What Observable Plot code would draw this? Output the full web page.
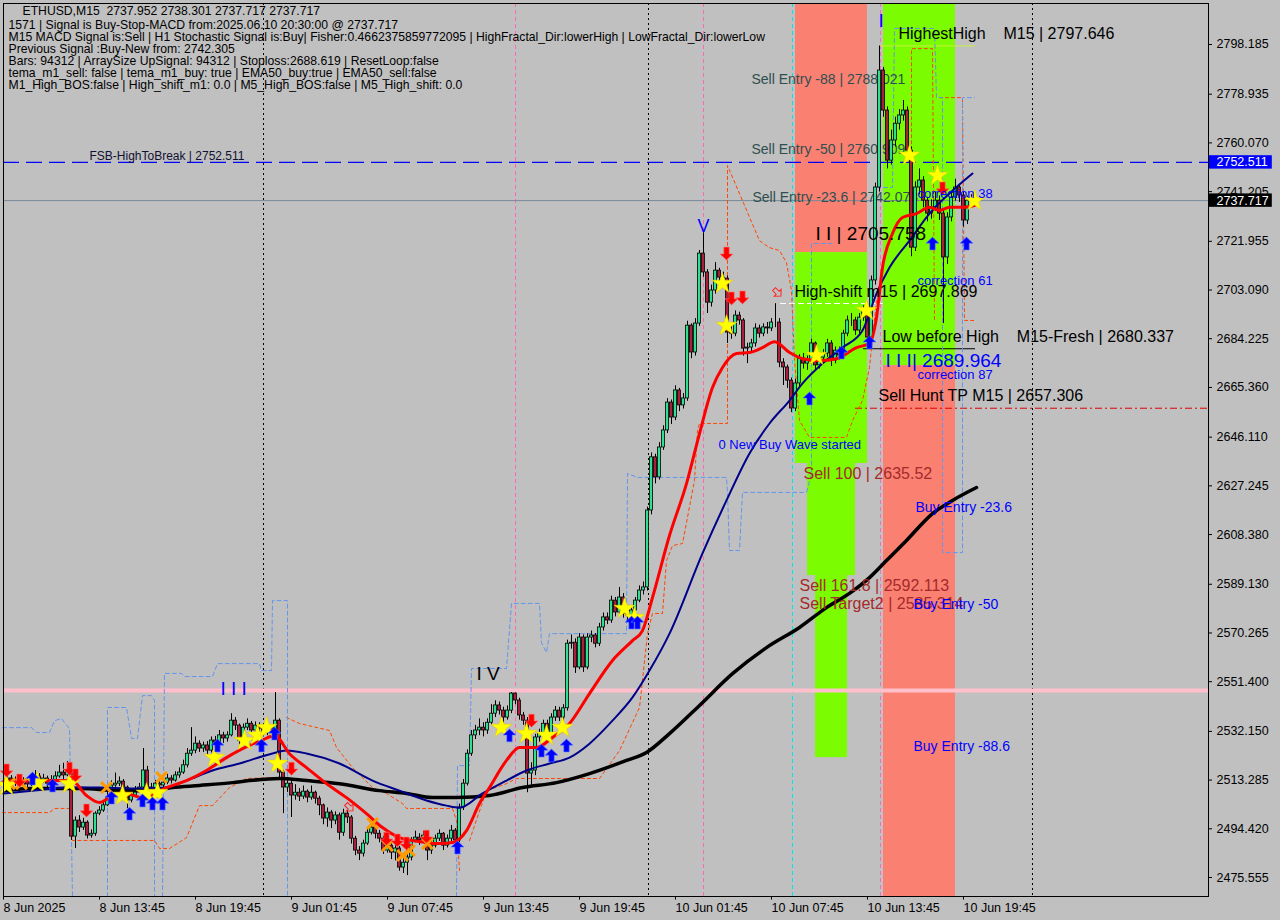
<!DOCTYPE html>
<html><head><meta charset="utf-8">
<script src="https://cdn.jsdelivr.net/npm/d3@7"></script>
<script src="https://cdn.jsdelivr.net/npm/@observablehq/plot@0.6"></script>
<style>
html,body{margin:0;padding:0;background:#c0c0c0;}
#chart{width:1280px;height:920px;overflow:hidden;}
</style></head><body>
<div id="chart"></div>
<script>
// ---------------- data ----------------
const infoLines = [
  "ETHUSD,M15  2737.952 2738.301 2737.717 2737.717",
  "1571 | Signal is Buy-Stop-MACD from:2025.06.10 20:30:00 @ 2737.717",
  "M15 MACD Signal is:Sell | H1 Stochastic Signal is:Buy| Fisher:0.4662375859772095 | HighFractal_Dir:lowerHigh | LowFractal_Dir:lowerLow",
  "Previous Signal :Buy-New from: 2742.305",
  "Bars: 94312 | ArraySize UpSignal: 94312 | Stoploss:2688.619 | ResetLoop:false",
  "tema_m1_sell: false | tema_m1_buy: true | EMA50_buy:true | EMA50_sell:false",
  "M1_High_BOS:false | High_shift_m1: 0.0 | M5_High_BOS:false | M5_High_shift: 0.0"
];
const priceTickLabels = ["2798.185","2778.935","2760.070","2741.205","2721.955","2703.090","2684.225","2665.360","2646.110","2627.245","2608.380","2589.130","2570.265","2551.400","2532.150","2513.285","2494.420","2475.555"];
const dateTickBars = [0,24,48,72,96,120,144,168,192,216,240];
const dateTickLabels = ["8 Jun 2025","8 Jun 13:45","8 Jun 19:45","9 Jun 01:45","9 Jun 07:45","9 Jun 13:45","9 Jun 19:45","10 Jun 01:45","10 Jun 07:45","10 Jun 13:45","10 Jun 19:45"];

// M15 candles (bar index 0 = 8 Jun 07:45); open = previous close
const firstOpen = 2511.5;
const closes = [
2512.3,2513.9,2511.9,2513.1,2511.2,2512.7,2511.6,2513.5,2514.7,2513.1,
2513.9,2511.9,2513.1,2514.7,2516.2,2515.1,2517.0,2491.4,2497.6,2494.9,
2496.8,2491.8,2492.5,2500.3,2501.5,2503.5,2506.5,2511.2,2511.9,2512.7,
2510.4,2505.4,2507.3,2509.2,2510.4,2517.0,2510.4,2510.0,2511.9,2511.2,
2512.3,2513.9,2513.1,2515.1,2516.2,2519.0,2523.5,2524.7,2527.4,2525.5,
2526.7,2524.7,2528.6,2527.8,2530.6,2529.4,2530.6,2536.3,2534.4,2528.6,
2533.6,2535.1,2532.5,2534.4,2533.2,2531.7,2533.6,2531.3,2536.3,2516.2,
2510.4,2511.9,2507.3,2508.4,2506.9,2508.8,2506.5,2508.4,2506.1,2503.5,
2498.4,2500.7,2497.6,2499.6,2492.9,2500.3,2498.8,2490.6,2486.0,2484.8,
2488.7,2492.9,2494.9,2492.5,2490.6,2486.0,2487.9,2485.2,2486.8,2479.4,
2481.3,2483.3,2489.9,2491.0,2489.9,2491.8,2486.0,2487.9,2490.6,2492.5,
2487.9,2490.6,2493.7,2489.9,2502.7,2511.9,2523.5,2530.6,2532.5,2533.6,
2532.5,2535.5,2539.0,2542.2,2540.2,2537.5,2540.2,2546.8,2544.1,2538.3,
2536.3,2515.8,2517.0,2529.8,2531.3,2535.1,2531.3,2537.5,2540.2,2537.5,
2541.1,2566.1,2566.5,2556.9,2568.5,2556.9,2568.5,2569.3,2566.1,2572.4,
2576.3,2575.1,2582.8,2578.2,2584.0,2577.8,2577.0,2579.0,2582.8,2586.7,
2587.9,2617.7,2638.3,2630.5,2642.1,2648.7,2659.5,2653.7,2664.2,2658.4,
2661.1,2689.3,2678.9,2690.1,2717.2,2709.9,2698.2,2702.9,2710.6,2707.9,
2707.5,2686.6,2686.2,2693.2,2691.3,2680.4,2680.8,2682.4,2688.2,2686.2,
2688.6,2688.2,2690.5,2690.5,2675.0,2673.1,2668.0,2657.2,2666.9,2676.5,
2674.6,2675.8,2682.4,2673.9,2676.9,2678.5,2682.4,2675.8,2679.6,2677.7,
2686.2,2691.3,2691.3,2687.4,2692.4,2695.1,2684.7,2706.8,2742.8,2788.1,
2772.6,2753.2,2761.0,2767.5,2770.7,2772.6,2757.1,2719.5,2742.8,2745.5,
2737.7,2732.7,2735.1,2737.7,2732.7,2715.7,2731.2,2738.9,2742.8,2739.7,
2730.0,2737.7,2737.952,2737.717];
const highs = [
2514.5,2515.5,2515.0,2514.5,2514.0,2514.2,2513.8,2515.0,2517.0,2515.8,
2515.5,2514.8,2515.0,2516.5,2519.0,2519.8,2520.5,2519.0,2499.0,2499.5,
2498.5,2497.5,2494.0,2501.0,2503.0,2505.0,2509.5,2513.0,2516.0,2514.5,
2513.5,2511.0,2508.5,2510.8,2512.0,2525.5,2518.6,2512.0,2513.2,2513.5,
2514.0,2515.5,2515.0,2516.5,2518.0,2521.0,2525.5,2533.6,2530.0,2528.5,
2528.0,2528.2,2530.0,2530.2,2532.5,2531.8,2532.0,2539.0,2537.5,2535.0,
2535.0,2537.0,2536.0,2535.8,2535.5,2534.5,2535.0,2534.5,2547.2,2537.0,
2517.0,2514.0,2513.0,2511.5,2510.0,2511.0,2509.5,2511.0,2509.0,2507.0,
2504.0,2502.5,2501.5,2501.0,2500.5,2502.0,2501.5,2499.5,2491.5,2487.5,
2490.0,2494.5,2496.5,2496.0,2493.8,2491.5,2489.5,2489.0,2488.5,2487.5,
2483.0,2485.0,2491.0,2493.5,2492.5,2493.5,2493.0,2489.5,2492.0,2494.0,
2493.0,2492.0,2495.7,2494.5,2504.0,2513.5,2525.0,2532.5,2534.5,2537.0,
2535.5,2537.0,2542.5,2544.0,2543.5,2541.5,2542.0,2547.2,2547.0,2545.0,
2539.5,2537.5,2520.0,2531.0,2533.0,2536.5,2536.5,2539.0,2541.8,2541.5,
2542.5,2567.5,2569.5,2568.0,2570.0,2569.5,2570.0,2571.0,2570.0,2574.0,
2578.0,2578.0,2584.5,2584.0,2587.9,2585.5,2579.5,2580.5,2584.0,2588.5,
2590.0,2619.0,2640.0,2639.5,2644.0,2650.5,2661.0,2660.5,2666.0,2665.0,
2663.0,2691.0,2690.0,2692.0,2718.4,2725.3,2711.0,2705.0,2713.7,2711.5,
2710.0,2708.5,2689.0,2695.0,2694.5,2692.0,2682.5,2684.0,2690.0,2689.5,
2690.0,2690.5,2692.0,2697.8,2692.0,2676.5,2674.0,2669.0,2668.5,2678.0,
2678.5,2677.5,2684.0,2683.0,2678.5,2680.0,2684.0,2683.5,2681.0,2681.0,
2687.5,2693.0,2694.0,2692.5,2694.0,2697.0,2696.0,2708.5,2744.5,2797.6,
2789.3,2774.0,2765.0,2770.0,2773.0,2776.5,2774.0,2758.5,2745.0,2750.0,
2747.0,2739.0,2738.0,2741.0,2739.5,2734.0,2733.0,2741.0,2746.0,2744.0,
2741.0,2739.5,2740.0,2738.301];
const lows = [
2510.0,2511.5,2510.5,2510.8,2509.0,2510.2,2510.0,2510.8,2512.8,2511.8,
2512.0,2510.3,2511.0,2512.5,2514.0,2513.5,2514.6,2489.9,2486.8,2493.0,
2493.8,2490.5,2490.8,2491.5,2499.5,2500.8,2503.0,2506.0,2510.5,2510.8,
2509.5,2502.2,2504.5,2506.5,2508.5,2509.5,2509.0,2508.5,2509.0,2509.8,
2510.0,2511.5,2511.8,2512.5,2514.0,2515.5,2518.0,2522.5,2523.5,2524.0,
2524.0,2523.0,2523.8,2526.0,2527.0,2527.5,2528.0,2530.0,2532.5,2527.0,
2527.5,2532.5,2531.0,2531.5,2531.8,2530.0,2530.5,2529.5,2530.5,2514.0,
2500.3,2508.5,2498.8,2505.5,2505.0,2505.8,2504.5,2505.5,2504.0,2499.5,
2496.0,2495.0,2494.5,2496.0,2490.0,2491.5,2496.5,2488.5,2484.0,2482.1,
2483.5,2488.0,2492.0,2490.5,2489.0,2484.5,2485.0,2482.5,2482.0,2478.0,
2477.1,2476.3,2482.0,2489.0,2488.0,2489.0,2482.1,2484.5,2487.0,2489.5,
2486.0,2487.0,2489.5,2488.0,2489.0,2501.5,2511.0,2522.5,2529.0,2530.5,
2530.0,2531.0,2534.5,2537.5,2538.5,2535.5,2536.5,2539.0,2542.5,2536.5,
2534.5,2508.4,2511.0,2515.0,2528.0,2530.0,2529.5,2530.0,2536.0,2536.0,
2536.0,2540.0,2564.0,2554.6,2556.0,2555.0,2556.0,2566.5,2564.5,2565.0,
2571.0,2573.5,2574.0,2576.5,2577.0,2576.0,2574.5,2575.5,2578.0,2582.0,
2585.0,2586.5,2616.0,2628.0,2629.5,2641.0,2647.5,2651.0,2652.5,2656.0,
2657.0,2660.0,2676.5,2677.5,2689.0,2708.0,2694.0,2696.5,2701.5,2705.5,
2704.0,2682.4,2684.0,2685.0,2689.5,2677.5,2674.6,2679.0,2681.0,2684.5,
2685.0,2686.0,2687.0,2688.5,2673.0,2666.1,2665.0,2655.6,2656.0,2665.5,
2672.5,2672.0,2674.5,2671.5,2672.5,2675.5,2677.0,2673.5,2674.5,2676.0,
2676.5,2685.0,2689.0,2685.5,2686.0,2691.0,2682.0,2683.5,2705.0,2741.0,
2770.0,2750.0,2751.5,2758.5,2765.0,2768.5,2754.5,2716.0,2718.0,2740.0,
2735.0,2729.5,2730.5,2733.5,2730.0,2690.1,2713.0,2729.5,2737.5,2737.0,
2727.5,2728.5,2735.5,2737.717];

// indicator lines: [bar, price]
const redLine = [[0,2512.7],[9,2513.1],[17,2513.1],[20.75,2507.3],[24,2504.6],[26.5,2506.5],[29.75,2508.4],[34.75,2506.5],[40.75,2510.4],[45.75,2513.1],[50.75,2517.0],[55.75,2522.0],[61.5,2526.7],[64.5,2528.6],[67.75,2530.6],[71.5,2523.5],[75.75,2518.1],[80.75,2511.9],[85.75,2506.5],[90.75,2500.3],[94.75,2494.9],[99,2491.0],[102.25,2489.9],[109,2488.7],[112.25,2489.1],[115.75,2493.7],[119,2504.2],[121.5,2510.4],[125.75,2520.9],[129,2525.9],[133.25,2525.9],[137.25,2529.8],[141.5,2535.2],[146.5,2546.8],[152.25,2559.6],[157.25,2567.3],[159.75,2571.2],[162.25,2584.0],[166.5,2608.0],[170.75,2628.1],[174,2647.5],[177.25,2665.3],[179.75,2673.1],[183.25,2678.5],[186.5,2678.9],[189.75,2680.8],[192.75,2683.1],[196.5,2678.9],[199.75,2676.5],[204,2675.8],[208.25,2676.5],[213.25,2680.8],[216.5,2682.4],[218.25,2692.4],[219.75,2711.8],[222.25,2725.0],[224.75,2731.2],[228.25,2732.7],[231.5,2735.1],[234,2733.9],[236.5,2735.1],[239.75,2735.1],[242.75,2735.8]];
const navyLine = [[0,2508.1],[7.25,2509.2],[15.75,2510.4],[24,2510.4],[32.25,2510.0],[40.75,2510.4],[45.75,2513.1],[52.25,2517.0],[59,2519.7],[67.25,2523.6],[70.75,2524.7],[75.75,2523.6],[84,2519.7],[92.25,2513.1],[99,2509.2],[105.75,2505.4],[110.75,2503.4],[114,2502.6],[119.75,2508.1],[125.75,2513.1],[130.75,2517.0],[136.5,2519.7],[141.5,2522.0],[146.5,2527.4],[152.25,2536.3],[157.25,2545.3],[161.5,2555.7],[166.5,2570.0],[174.75,2601.1],[180.75,2621.6],[186.5,2639.8],[191.5,2651.4],[196.5,2660.3],[199.75,2666.9],[204.75,2674.6],[209.75,2680.8],[214.75,2687.4],[218.25,2701.7],[221.5,2711.8],[226.5,2722.2],[231.5,2732.7],[236.5,2740.5],[242.25,2748.2]];
const blackLine = [[0,2509.2],[7.25,2510.0],[19.75,2510.0],[28.25,2509.2],[36.5,2509.2],[42.25,2510.4],[49,2511.2],[57.25,2512.3],[61.5,2513.1],[69,2513.9],[75.75,2513.1],[84,2511.9],[94,2509.2],[100.75,2508.1],[107.25,2506.5],[113.25,2506.5],[121.5,2507.3],[129.75,2510.4],[138.25,2512.3],[146.5,2515.8],[155.75,2520.9],[160.75,2524.0],[166.5,2531.3],[174,2542.2],[182.25,2554.5],[190.75,2564.6],[199,2572.4],[205.75,2580.1],[211.5,2585.6],[216.5,2591.7],[220.75,2598.3],[225.75,2606.1],[232.25,2616.5],[237.25,2621.6],[243.25,2626.6]];
// stepped bands: [segment, bar, price]
const orangeBand = [
[1,-0.25,2500.7],[1,11.5,2500.7],[1,12.75,2502.3],[1,17,2502.3],[1,17.25,2489.9],[1,37.75,2489.9],[1,39,2486.8],[1,41.5,2486.8],[1,45.75,2491.0],[1,49,2503.4],[1,52.25,2503.4],[1,56.5,2510.4],[1,60.75,2513.9],[1,69.75,2514.3],
[2,70.75,2537.5],[2,74,2535.2],[2,81.5,2532.5],[2,83.25,2525.9],[2,87.25,2518.1],[2,92.25,2510.4],[2,95.75,2508.1],[2,99.75,2504.2],[2,100.75,2502.3],[2,112.25,2502.3],[2,113.25,2497.6],[2,114,2478.3],
[3,116.5,2489.9],[3,120.75,2509.2],[3,125.75,2511.9],[3,128.25,2513.9],[3,149,2513.9],[3,154,2524.7],[3,159,2541.4],[3,161,2570.0],[3,162.25,2577.8],[3,164.75,2577.8],[3,165.75,2598.3],[3,167.25,2604.1],[3,169.75,2604.9],[3,172.75,2629.3],[3,173.5,2648.7],[3,174,2651.4],[3,181,2651.4],[3,181,2751.3],[3,184.75,2737.7],[3,189,2722.2],[3,191.5,2719.5],[3,194,2718.4],[3,195.75,2713.7],[3,197,2702.9],[3,197.75,2675.8],[3,199,2652.5],[3,201.5,2646.0],[3,210.75,2646.0],[3,212.25,2652.5],[3,214.75,2660.3],[3,216.5,2673.1],[3,218.25,2699.0],
[6,227,2724.9],[6,227,2796.6],[6,232.25,2796.6],[6,232.75,2691.3],
[7,234,2777.6],[7,239.75,2777.6],[7,240.25,2691.3],[7,242.75,2691.3]];
const blueFractal = [
[1,-0.25,2533.6],[1,7,2533.6],[1,8.25,2531.7],[1,11.5,2531.7],[1,12.75,2536.3],[1,14.5,2537.1],[1,16.5,2533.2],[1,17.25,2468.2],
[2,26,2468.2],[2,26,2541.4],[2,30.75,2541.4],[2,32,2529.4],[2,33.5,2529.4],[2,34.75,2546.0],[2,37,2546.0],[2,37.75,2544.1],[2,37.75,2468.2],
[3,39.75,2468.2],[3,40.25,2554.6],[3,44.5,2554.6],[3,45.25,2553.4],[3,52.25,2553.4],[3,53.5,2558.4],[3,64,2558.4],[3,64.5,2555.7],[3,67,2555.7],[3,67.25,2582.8],[3,71,2582.8],[3,71,2468.2],
[4,113.25,2468.2],[4,113.5,2518.9],[4,116.5,2518.9],[4,117,2556.5],[4,125.75,2556.5],[4,127,2581.7],[4,134,2581.7],[4,134.5,2566.5],[4,135.75,2562.7],[4,136.5,2570.0],[4,155.75,2570.0],[4,156,2632.0],[4,158.5,2630.5],[4,180.75,2630.5],[4,181,2624.3],[4,181.5,2602.2],[4,184,2602.2],[4,184.75,2624.7],[4,200.75,2624.7],[4,202,2632.0],[4,202,2721.1],[4,207.5,2721.1],
[5,218.25,2742.8],[5,222.25,2742.8],[5,222.75,2804.4],[5,232.75,2804.4],[5,233.25,2777.6],[5,234.75,2777.6],[5,234.75,2601.4],[5,239.75,2601.4],[5,239.75,2777.6],[5,242.75,2777.6]];

// signal markers: [bar, price]
const redArrows = [[0.75,2517.0],[4,2513.1],[16.5,2517.7],[18,2515.1],[20.75,2501.5],[72,2517.7],[95.75,2490.6],[98.5,2489.9],[100.75,2488.7],[105.75,2491.4],[132,2536.3],[180.75,2717.2],[182,2699.8],[184.75,2700.2],[234.75,2742.4]];
const blueArrows = [[7.25,2513.9],[12.25,2511.2],[27,2506.5],[31.5,2500.3],[34.75,2505.4],[37.25,2504.2],[39.75,2504.2],[53.5,2526.7],[64.5,2526.7],[67.75,2531.3],[113.5,2487.2],[126.5,2530.6],[134.5,2524.7],[137,2522.8],[140.75,2526.7],[157,2574.3],[158.5,2574.3],[201.5,2661.1],[209.5,2678.9],[216.5,2682.8],[232.25,2721.1],[240.75,2721.1]];
const stars = [[0.75,2511.2],[8.5,2512.3],[16.5,2511.9],[29.75,2507.3],[35.75,2508.1],[38.5,2508.4],[52.75,2522.0],[60.25,2528.6],[63.5,2530.6],[65.75,2533.6],[68.5,2519.7],[124.5,2533.6],[130.75,2531.3],[135.75,2530.6],[139.75,2533.6],[155.25,2579.7],[157.75,2576.2],[179.75,2705.6],[180.75,2689.3],[203.25,2677.7],[215.75,2695.1],[226.5,2755.2],[233.5,2747.4],[242.75,2737.7]];
const orangeCrosses = [[1.5,2511.9],[4.5,2511.9],[25.75,2510.4],[39.5,2514.3],[92.25,2496.5],[96,2487.9],[99.75,2484.1],[101.5,2486.0],[106,2488.7]];
const hollowArrows = [[86.5,2502.7],[193.5,2702.1]];

// zones (bar from, bar to, price top, price bottom)
const zoneFrom   = [198, 198, 201, 203, 220, 220];
const zoneTo     = [216, 216, 213, 211, 238, 238];
const zoneTop    = [2814.06, 2717.6, 2635.9, 2592.5, 2814.06, 2673.8];
const zoneBottom = [2717.6, 2635.9, 2592.5, 2522.0, 2673.8, 2468.2];
const zoneKind   = ["sell","buy","buy","buy","buy","sell"];

// levels
const fsbLevel = 2752.511, bidLevel = 2737.717, pinkLevel = 2548.0;
const sellHuntSeg = [2657.306, 213, 301.25];
const highShiftSeg = [2697.869, 194.25, 220];
const lowBeforeHighSeg = [2680.337, 215, 243];
const highestHighSeg = [2797.646, 219, 243];
const blackDotted = [65, 161.25, 257.25];
const pinkDashed = [128, 175, 219.25];
const cyanDashed = [197.25];

// labels: [text, bar, price]
const sellEntryLabels = [["Sell Entry -88 | 2788.021",187,2784.6],["Sell Entry -50 | 2760.909",187,2757.5],["Sell Entry -23.6 | 2742.073",187.25,2738.9]];
const fsbLabel = [["FSB-HighToBreak | 2752.511",21.5,2754.8]];
const blackLabels = [["HighestHigh    M15 | 2797.646",223.75,2802.4],["High-shift m15 | 2697.869",197.75,2702.5],["Low before High    M15-Fresh | 2680.337",219.75,2685.1],["Sell Hunt TP M15 | 2657.306",218.75,2662.2]];
const waveBlack = [["I I | 2705.758",203,2725.0],["I V",118.25,2554.6]];
const waveBlue = [["I I I| 2689.964",220.5,2675.8],["I I I",54.25,2548.7],["I",218.75,2807.5]];
const waveV = [["V",175,2727.7]];
const smallBlue = [["correction 61",228.5,2706.8],["correction 87",228.5,2670.3],["correction 38",228.5,2740.4],["0 New Buy Wave started",178.75,2643.2]];
const brownLabels = [["Sell 100 | 2635.52",200,2632.0],["Sell 161.8 | 2592.113",199,2588.6],["Sell Target2 | 2585.314",199,2581.7]];
const buyEntryLabels = [["Buy Entry -23.6",228,2618.8],["Buy Entry -50",227.5,2581.3],["Buy Entry -88.6",227.5,2526.3]];
const priceBoxes = [[fsbLevel,"2752.511","#0000ff"],[bidLevel,"2737.717","#000000"]];

// ---------------- build ----------------
const opens = [firstOpen, ...closes.slice(0, -1)];
const candles = closes.map((c, i) => ({i, o: opens[i], h: highs[i], l: lows[i], c}));
const zones = zoneFrom.map((f, k) => ({x1: f, x2: zoneTo[k], y1: zoneBottom[k], y2: zoneTop[k], kind: zoneKind[k]}));
const dateTicks = dateTickBars.map((b, k) => ({i: b, label: dateTickLabels[k]}));

const arrowUp = {draw(ctx, size) {
  const s = Math.sqrt(size) / 2;
  ctx.moveTo(0, -s); ctx.lineTo(s, -s * 0.05); ctx.lineTo(s * 0.42, -s * 0.05);
  ctx.lineTo(s * 0.42, s); ctx.lineTo(-s * 0.42, s); ctx.lineTo(-s * 0.42, -s * 0.05);
  ctx.lineTo(-s, -s * 0.05); ctx.closePath();
}};
const arrowDown = {draw(ctx, size) {
  const s = Math.sqrt(size) / 2;
  ctx.moveTo(0, s); ctx.lineTo(s, s * 0.05); ctx.lineTo(s * 0.42, s * 0.05);
  ctx.lineTo(s * 0.42, -s); ctx.lineTo(-s * 0.42, -s); ctx.lineTo(-s * 0.42, s * 0.05);
  ctx.lineTo(-s, s * 0.05); ctx.closePath();
}};

const bx = d => d[1], by = d => d[2], bz = d => d[0];
const px = d => d[0], py = d => d[1];
const labelMarks = (arr, opts) => Plot.text(arr, {x: d => d[1], y: d => d[2], text: d => d[0], textAnchor: "start", ...opts});
const infoDy = [8, 22, 34, 46, 58, 70, 82];

const chart = Plot.plot({
  width: 1280, height: 920,
  marginLeft: 3, marginRight: 72, marginTop: 3, marginBottom: 24,
  x: {domain: [0, 301.25], axis: null},
  y: {domain: [2468.2, 2814.06], axis: null},
  style: {background: "#c0c0c0", fontFamily: "'Liberation Sans', Arial, sans-serif", color: "black", overflow: "visible"},
  marks: [
    Plot.rect(zones, {x1: "x1", x2: "x2", y1: "y1", y2: "y2", fill: d => d.kind === "sell" ? "#fa8072" : "#7cfc00"}),
    Plot.ruleX(blackDotted, {stroke: "black", strokeDasharray: "2,3", strokeWidth: 1}),
    Plot.ruleX(pinkDashed, {stroke: "#ff69b4", strokeDasharray: "4,3", strokeWidth: 1}),
    Plot.ruleX(cyanDashed, {stroke: "#00e5ee", strokeDasharray: "4,3", strokeWidth: 1}),
    Plot.ruleY([pinkLevel], {stroke: "#ffc0cb", strokeWidth: 4}),
    Plot.ruleY([bidLevel], {stroke: "#778899", strokeWidth: 1}),
    Plot.ruleY([fsbLevel], {stroke: "#0000ff", strokeWidth: 1.2, strokeDasharray: "16,7"}),
    Plot.ruleY([sellHuntSeg], {y: d => d[0], x1: d => d[1], x2: d => d[2], stroke: "#dd0000", strokeDasharray: "7,3,2,3"}),
    Plot.ruleY([highShiftSeg], {y: d => d[0], x1: d => d[1], x2: d => d[2], stroke: "#ffffff", strokeDasharray: "6,3"}),
    Plot.ruleY([lowBeforeHighSeg], {y: d => d[0], x1: d => d[1], x2: d => d[2], stroke: "#000000", strokeWidth: 1.2}),
    Plot.ruleY([highestHighSeg], {y: d => d[0], x1: d => d[1], x2: d => d[2], stroke: "#c8f03c", strokeWidth: 1}),
    Plot.line(orangeBand, {x: bx, y: by, z: bz, stroke: "#ff4500", strokeWidth: 1, strokeDasharray: "3,3"}),
    Plot.line(blueFractal, {x: bx, y: by, z: bz, stroke: "#6495ed", strokeWidth: 1, strokeDasharray: "4,3"}),
    labelMarks(sellEntryLabels, {fill: "#2f4f4f", fontSize: 14}),
    Plot.ruleX(candles, {x: "i", y1: "l", y2: "h", stroke: "black", strokeWidth: 1}),
    Plot.rect(candles, {x1: d => d.i - 0.38, x2: d => d.i + 0.38,
      y1: d => Math.min(d.o, d.c), y2: d => Math.max(d.o, d.c),
      fill: d => d.c >= d.o ? "#30e08e" : "#a8203c", stroke: "black", strokeWidth: 0.8}),
    Plot.line(blackLine, {x: px, y: py, stroke: "black", strokeWidth: 3.5, curve: "monotone-x"}),
    Plot.line(navyLine, {x: px, y: py, stroke: "#00008b", strokeWidth: 2, curve: "monotone-x"}),
    Plot.line(redLine, {x: px, y: py, stroke: "#ff0000", strokeWidth: 3, curve: "monotone-x"}),
    Plot.dot(orangeCrosses, {x: px, y: py, symbol: "times", r: 5, stroke: "#ff9900", strokeWidth: 3}),
    Plot.dot(stars, {x: px, y: py, symbol: "star", r: 6.6, fill: "#ffff00", stroke: "#e8c800", strokeWidth: 0.5}),
    Plot.dot(redArrows, {x: px, y: py, symbol: arrowDown, r: 7.3, fill: "#ff0000", stroke: "#ff7070", strokeWidth: 0.6}),
    Plot.dot(blueArrows, {x: px, y: py, symbol: arrowUp, r: 7.3, fill: "#0000ff", stroke: "#6080ff", strokeWidth: 0.6}),
    Plot.dot(hollowArrows, {x: px, y: py, symbol: arrowDown, r: 5.5, fill: "none", stroke: "#ff2020", strokeWidth: 1, rotate: -45}),
    labelMarks(fsbLabel, {fill: "#111133", fontSize: 12}),
    labelMarks(blackLabels, {fill: "black", fontSize: 16}),
    labelMarks(waveBlack, {fill: "black", fontSize: 19}),
    labelMarks(waveBlue, {fill: "#0000ff", fontSize: 19}),
    Plot.text(waveV, {x: d => d[1], y: d => d[2], text: d => d[0], fill: "#0000ff", fontSize: 18}),
    labelMarks(smallBlue, {fill: "#0000ff", fontSize: 13}),
    labelMarks(brownLabels, {fill: "#a52a2a", fontSize: 16}),
    labelMarks(buyEntryLabels, {fill: "#0000ff", fontSize: 14}),
    ...infoLines.map((t, k) => Plot.text([t], {frameAnchor: "top-left", dx: k === 0 ? 19 : 5, dy: infoDy[k], lineAnchor: "middle", textAnchor: "start", fontSize: 12.2, fill: "black"})),
    Plot.frame({stroke: "black", strokeWidth: 1}),
    // right price axis
    Plot.ruleY(priceTickLabels, {y: d => +d, x1: 301.25, x2: 302.25, stroke: "black"}),
    Plot.text(priceTickLabels, {y: d => +d, text: d => d, frameAnchor: "right", dx: 8, textAnchor: "start", fontSize: 12.5, fill: "black"}),
    Plot.rect(priceBoxes, {y1: d => d[0] - 2.6, y2: d => d[0] + 2.6, x1: 301.5, x2: 317.2, fill: d => d[2]}),
    Plot.text(priceBoxes, {y: d => d[0], text: d => d[1], frameAnchor: "right", dx: 8, textAnchor: "start", fontSize: 12.5, fill: "white"}),
    // bottom time axis
    Plot.ruleX(dateTicks, {x: "i", y1: 2466.8, y2: 2468.2, stroke: "black"}),
    Plot.text(dateTicks, {x: "i", text: "label", frameAnchor: "bottom", dy: 11, lineAnchor: "middle", textAnchor: "start", fontSize: 12.5, fill: "black"})
  ]
});
document.getElementById("chart").append(chart);
</script>
</body></html>
